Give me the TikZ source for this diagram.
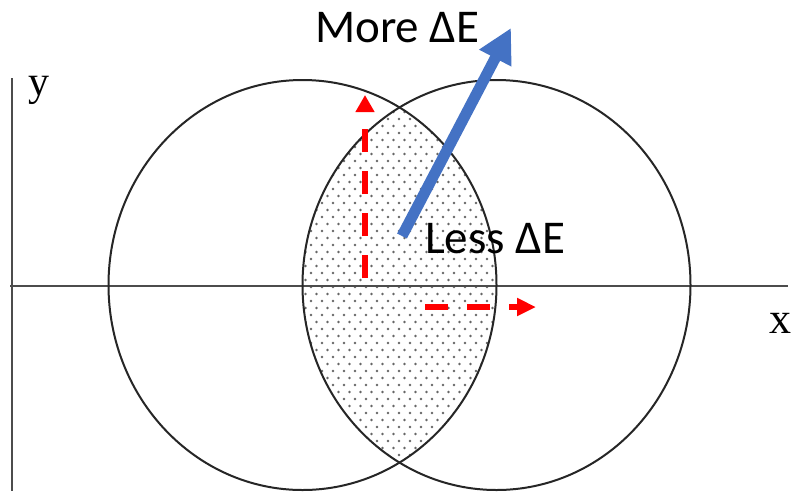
\documentclass[tikz,border=0pt]{standalone}
\usepackage{fontspec}
\setmainfont{Liberation Serif}
\newfontfamily\calfont{Carlito}
\usetikzlibrary{arrows.meta}
\definecolor{arrowblue}{RGB}{68,114,196}
\begin{document}
\begin{tikzpicture}[x=1pt,y=-1pt,
  circ/.style={draw=black!85, line width=2pt},
  axisline/.style={draw=black!70, line width=2.2pt},
  reddash/.style={draw=red, line width=6pt, dash pattern=on 23pt off 19pt},
  lbl/.style={font=\calfont\fontsize{47}{50}\selectfont, inner sep=0pt, anchor=base west},
  axlbl/.style={font=\fontsize{42}{46}\selectfont, inner sep=0pt, anchor=base west},
  dotc/.style={fill=black!60}]
\useasboundingbox (0,0) rectangle (792,491);
\fill[white] (0,0) rectangle (792,491);

\coordinate (L) at (302.5,285);
\coordinate (R) at (496.5,285);

% stipple in the lens
\begin{scope}
  \clip (L) ellipse [x radius=194pt, y radius=205pt];
  \clip (R) ellipse [x radius=194pt, y radius=205pt];
  \foreach \j in {0,...,52} {
    \foreach \i in {0,...,18} {
      \fill[dotc] ({300+\i*11+mod(\j,2)*5.5},{105+\j*7}) circle[radius=1.3pt];
    }
  }
\end{scope}

% axes
\coordinate (ytop) at (12,78);
\coordinate (ybot) at (12,491);
\coordinate (xl) at (10,286);
\coordinate (xr) at (788,286);
\draw[axisline] (ytop) -- (ybot);
\draw[axisline] (xl) -- (xr);

% circles
\draw[circ] (L) ellipse [x radius=194pt, y radius=205pt];
\draw[circ] (R) ellipse [x radius=194pt, y radius=205pt];

% axis labels
\node[axlbl] (ylab) at (28,95) {y};
\node[axlbl, font=\fontsize{44}{48}\selectfont] (xlab) at (769,333) {x};

% red dashed arrows
\coordinate (v1) at (365,278);
\coordinate (v2) at (365,95);
\coordinate (h1) at (425,307);
\coordinate (h2) at (536,307);
\draw[reddash, -{Triangle[length=17pt,width=18pt]}] (v1) -- (v2);
\draw[reddash, -{Triangle[length=19pt,width=17pt]}] (h1) -- (h2);

% blue arrow
\coordinate (b1) at (402,236);
\coordinate (b2) at (511,28);
\draw[draw=arrowblue, line width=11pt, -{Triangle[length=34pt,width=34pt]}] (b1) -- (b2);

% labels
\node[lbl] (more) at (315,42) {More ΔE};
\node[lbl] (less) at (425,253) {Less ΔE};
\end{tikzpicture}
\end{document}
